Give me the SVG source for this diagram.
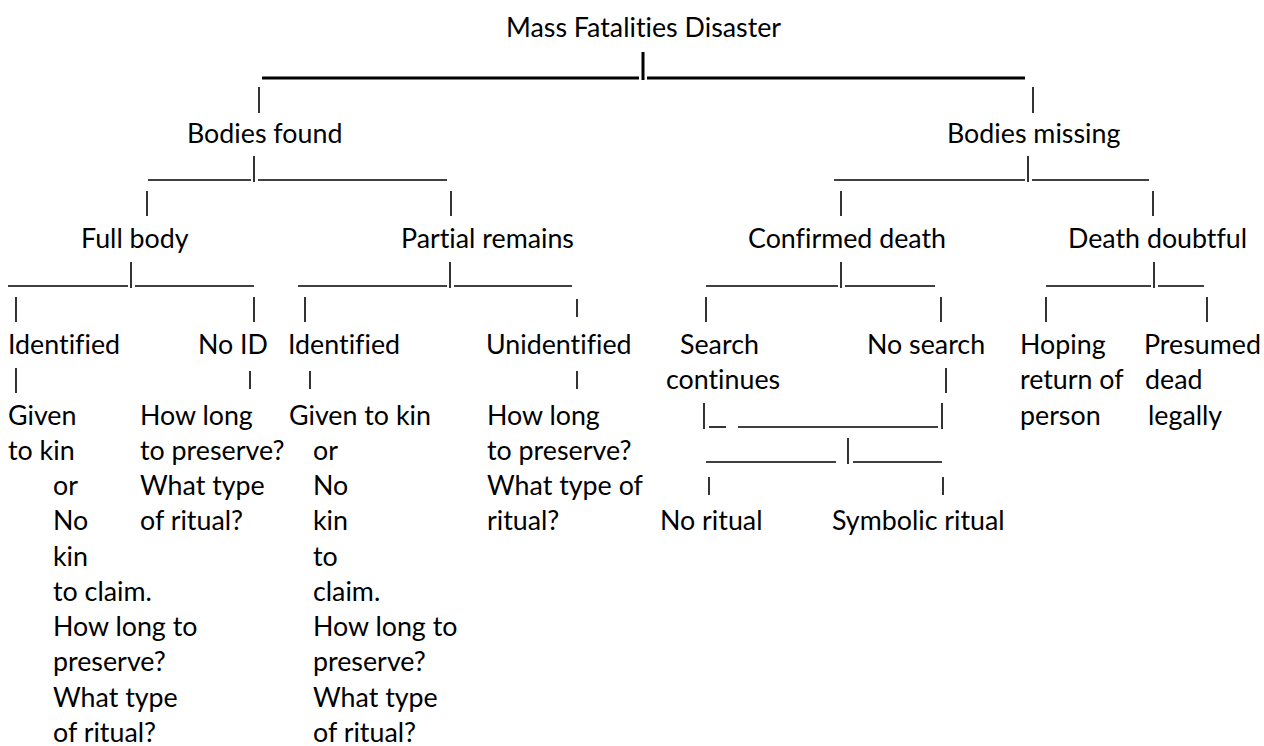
<svg xmlns="http://www.w3.org/2000/svg" width="1264" height="746" viewBox="0 0 1264 746">
  <style>
    text { font-family: Lato, "Open Sans", sans-serif; font-size: 26.8px; fill: #000; font-variant-ligatures: none; font-feature-settings: "liga" 0, "clig" 0; }
    .c line { stroke: #000; stroke-width: 1.6; }
    .c line.bold { stroke-width: 3; }
  </style>
  <rect width="1264" height="746" fill="#fff"/>

  <g id="connectors" class="c">
    <!-- row 2 -->
    <line class="bold" x1="262" y1="78" x2="639" y2="78"/>
    <line class="bold" x1="643" y1="52" x2="643" y2="80"/>
    <line class="bold" x1="647" y1="78" x2="1025" y2="78"/>
    <!-- row 3 -->
    <line x1="259" y1="87" x2="259" y2="113"/>
    <line x1="1033" y1="87" x2="1033" y2="113"/>
    <!-- row 5 -->
    <line x1="148" y1="180" x2="251" y2="180"/>
    <line x1="254" y1="156" x2="254" y2="182"/>
    <line x1="258" y1="180" x2="447" y2="180"/>
    <line x1="834" y1="180" x2="1025" y2="180"/>
    <line x1="1028" y1="156" x2="1028" y2="182"/>
    <line x1="1032" y1="180" x2="1149" y2="180"/>
    <!-- row 6 -->
    <line x1="147" y1="191" x2="147" y2="216"/>
    <line x1="451" y1="191" x2="451" y2="216"/>
    <line x1="841" y1="191" x2="841" y2="216"/>
    <line x1="1153" y1="191" x2="1153" y2="216"/>
    <!-- row 8 -->
    <line x1="8" y1="286" x2="128" y2="286"/>
    <line x1="131" y1="262" x2="131" y2="288"/>
    <line x1="135" y1="286" x2="254" y2="286"/>
    <line x1="298" y1="286" x2="447" y2="286"/>
    <line x1="450" y1="262" x2="450" y2="288"/>
    <line x1="454" y1="286" x2="572" y2="286"/>
    <line x1="706" y1="286" x2="838" y2="286"/>
    <line x1="841" y1="262" x2="841" y2="288"/>
    <line x1="845" y1="286" x2="935" y2="286"/>
    <line x1="1046" y1="286" x2="1151" y2="286"/>
    <line x1="1154" y1="262" x2="1154" y2="288"/>
    <line x1="1158" y1="286" x2="1204" y2="286"/>
    <!-- row 9 -->
    <line x1="16" y1="297" x2="16" y2="322"/>
    <line x1="254" y1="297" x2="254" y2="322"/>
    <line x1="305" y1="297" x2="305" y2="322"/>
    <line x1="577" y1="299" x2="577" y2="317"/>
    <line x1="706" y1="297" x2="706" y2="322"/>
    <line x1="941" y1="297" x2="941" y2="322"/>
    <line x1="1046" y1="297" x2="1046" y2="322"/>
    <line x1="1207" y1="297" x2="1207" y2="322"/>
    <!-- row 11 -->
    <line x1="16" y1="368" x2="16" y2="393"/>
    <line x1="250" y1="371" x2="250" y2="389"/>
    <line x1="310" y1="371" x2="310" y2="389"/>
    <line x1="577" y1="371" x2="577" y2="389"/>
    <line x1="946" y1="368" x2="946" y2="393"/>
    <!-- row 12 -->
    <line x1="704" y1="403" x2="704" y2="429"/>
    <line x1="709" y1="427" x2="726" y2="427"/>
    <line x1="738" y1="427" x2="938" y2="427"/>
    <line x1="942" y1="403" x2="942" y2="429"/>
    <!-- row 13 -->
    <line x1="706" y1="462" x2="836" y2="462"/>
    <line x1="848" y1="438" x2="848" y2="464"/>
    <line x1="853" y1="462" x2="942" y2="462"/>
    <!-- row 14 -->
    <line x1="709" y1="477" x2="709" y2="495"/>
    <line x1="943" y1="477" x2="943" y2="495"/>
  </g>

  <g id="mass-fatalities-disaster"><text x="506" y="37">Mass Fatalities Disaster</text></g>
  <g id="bodies-found"><text x="187" y="143">Bodies found</text></g>
  <g id="bodies-missing"><text x="947" y="143">Bodies missing</text></g>
  <g id="full-body"><text x="81" y="248">Full body</text></g>
  <g id="partial-remains"><text x="401" y="248">Partial remains</text></g>
  <g id="confirmed-death"><text x="748" y="248">Confirmed death</text></g>
  <g id="death-doubtful"><text x="1068" y="248">Death doubtful</text></g>

  <g id="full-identified">
    <text x="8" y="354">Identified</text>
    <text x="8" y="425">Given</text>
    <text x="8" y="460">to kin</text>
    <text x="53" y="495">or</text>
    <text x="53" y="530">No</text>
    <text x="53" y="566">kin</text>
    <text x="53" y="601">to claim.</text>
    <text x="53" y="636">How long to</text>
    <text x="53" y="671">preserve?</text>
    <text x="53" y="707">What type</text>
    <text x="53" y="742">of ritual?</text>
  </g>
  <g id="full-no-id">
    <text x="198" y="354">No ID</text>
    <text x="140" y="425">How long</text>
    <text x="140" y="460">to preserve?</text>
    <text x="140" y="495">What type</text>
    <text x="140" y="530">of ritual?</text>
  </g>
  <g id="partial-identified">
    <text x="288" y="354">Identified</text>
    <text x="289" y="425">Given to kin</text>
    <text x="313" y="460">or</text>
    <text x="313" y="495">No</text>
    <text x="313" y="530">kin</text>
    <text x="313" y="566">to</text>
    <text x="313" y="601">claim.</text>
    <text x="313" y="636">How long to</text>
    <text x="313" y="671">preserve?</text>
    <text x="313" y="707">What type</text>
    <text x="313" y="742">of ritual?</text>
  </g>
  <g id="partial-unidentified">
    <text x="486" y="354">Unidentified</text>
    <text x="487" y="425">How long</text>
    <text x="487" y="460">to preserve?</text>
    <text x="487" y="495">What type of</text>
    <text x="487" y="530">ritual?</text>
  </g>
  <g id="search-continues">
    <text x="680" y="354">Search</text>
    <text x="666" y="389">continues</text>
  </g>
  <g id="no-search"><text x="867" y="354">No search</text></g>
  <g id="hoping-return">
    <text x="1020" y="354">Hoping</text>
    <text x="1020" y="389">return of</text>
    <text x="1020" y="425">person</text>
  </g>
  <g id="presumed-dead">
    <text x="1144" y="354">Presumed</text>
    <text x="1145" y="389">dead</text>
    <text x="1148" y="425">legally</text>
  </g>
  <g id="no-ritual"><text x="660" y="530">No ritual</text></g>
  <g id="symbolic-ritual"><text x="832" y="530">Symbolic ritual</text></g>
</svg>
